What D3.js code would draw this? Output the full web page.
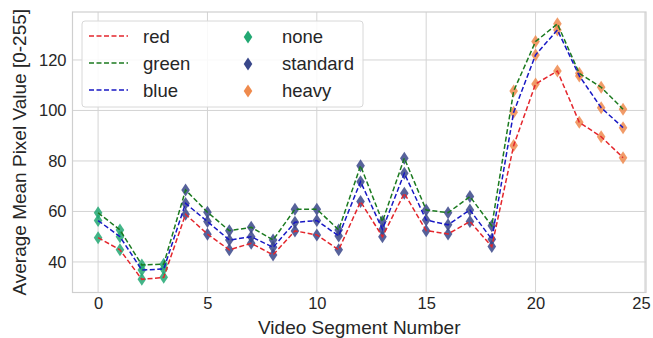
<!DOCTYPE html>
<html>
<head>
<meta charset="utf-8">
<script src="https://cdn.jsdelivr.net/npm/d3@7"></script>
<style>
  body { margin: 0; background: #fff; }
  #chart { width: 653px; height: 338px; }
  text { font-family: "Liberation Sans", Arial, sans-serif; fill: #262626; }
</style>
</head>
<body>
<div id="chart"></div>
<script>
/** Data */
const segments = d3.range(0, 25);
const redValues = [49.6, 44.8, 33.1, 33.9, 58.9, 51.0, 44.8, 47.4, 42.8, 52.3, 50.7, 44.8, 63.9, 50.0, 67.2, 52.4, 51.1, 56.0, 46.1, 86.1, 110.5, 115.6, 95.3, 89.6, 81.3];
const greenValues = [59.5, 52.7, 38.8, 39.1, 68.5, 59.7, 52.4, 53.7, 48.7, 60.9, 60.9, 52.7, 78.1, 56.0, 81.1, 60.6, 59.5, 65.9, 54.3, 107.7, 127.3, 134.3, 114.7, 109.2, 100.5];
const blueValues = [56.4, 50.0, 36.8, 37.2, 63.2, 56.0, 48.7, 50.0, 45.8, 55.7, 56.4, 50.3, 71.8, 52.9, 75.1, 56.6, 54.7, 60.6, 49.0, 99.3, 122.0, 131.9, 113.7, 101.1, 93.2];
const compression = ["none", "none", "none", "none",
  "standard", "standard", "standard", "standard", "standard", "standard", "standard", "standard",
  "standard", "standard", "standard", "standard", "standard", "standard", "standard",
  "heavy", "heavy", "heavy", "heavy", "heavy", "heavy"];
const xTicks = [0, 5, 10, 15, 20, 25];
const yTicks = [40, 60, 80, 100, 120];

const seriesNames = ["red", "green", "blue"];
const seriesValues = [redValues, greenValues, blueValues];
const lineColors = { red: "#e4262c", green: "#1b7a1f", blue: "#1818c4" };
const levels = ["none", "standard", "heavy"];
const markerColors = { none: "#22a873", standard: "#39478a", heavy: "#ef8a4d" };

/** Layout */
const width = 653;
const height = 338;
const plot = { left: 72.5, right: 646, top: 12, bottom: 292.5 };

const x = d3.scaleLinear().domain([-1.17, 25.05]).range([plot.left, plot.right]);
const y = d3.scaleLinear().domain([27.9, 139.0]).range([plot.bottom, plot.top]);

const svg = d3.select("#chart").append("svg")
  .attr("width", width)
  .attr("height", height);

/** Grid */
const grid = svg.append("g");
grid.selectAll("line.vx")
  .data(xTicks.filter((t) => x(t) <= plot.right))
  .enter().append("line")
  .attr("x1", (d) => x(d)).attr("x2", (d) => x(d))
  .attr("y1", plot.top).attr("y2", plot.bottom)
  .style("stroke", "#d4d4d4").style("stroke-width", 1);
grid.selectAll("line.hy")
  .data(yTicks)
  .enter().append("line")
  .attr("x1", plot.left).attr("x2", plot.right)
  .attr("y1", (d) => y(d)).attr("y2", (d) => y(d))
  .style("stroke", "#d4d4d4").style("stroke-width", 1);

svg.append("rect")
  .attr("x", plot.left).attr("y", plot.top)
  .attr("width", plot.right - plot.left).attr("height", plot.bottom - plot.top)
  .style("fill", "none").style("stroke", "#cfcfcf").style("stroke-width", 1.2);

/** Axes (tick labels only, seaborn whitegrid style) */
const xAxis = svg.append("g")
  .attr("transform", `translate(0, ${plot.bottom})`)
  .call(d3.axisBottom(x).tickValues(xTicks).tickSize(0).tickPadding(5));
xAxis.select(".domain").remove();
xAxis.selectAll("text").style("font-size", "16.5px").style("fill", "#262626")
  .attr("dx", (d) => (d === 25 ? -4 : 0));

const yAxis = svg.append("g")
  .attr("transform", `translate(${plot.left}, 0)`)
  .call(d3.axisLeft(y).tickValues(yTicks).tickSize(0).tickPadding(6));
yAxis.select(".domain").remove();
yAxis.selectAll("text").style("font-size", "16.5px").style("fill", "#262626");

svg.append("text")
  .attr("x", (plot.left + plot.right) / 2)
  .attr("y", 334)
  .attr("text-anchor", "middle")
  .style("font-size", "19px")
  .text("Video Segment Number");

svg.append("text")
  .attr("transform", `translate(26, ${(plot.top + plot.bottom) / 2}) rotate(-90)`)
  .attr("text-anchor", "middle")
  .style("font-size", "19px")
  .text("Average Mean Pixel Value [0-255]");

/** Markers */
const diamond = (cx, cy) => `M${cx},${cy - 6.5} L${cx + 4.3},${cy} L${cx},${cy + 6.5} L${cx - 4.3},${cy} Z`;
const markers = svg.append("g");
seriesValues.forEach((vals) => {
  markers.selectAll(null)
    .data(segments)
    .enter().append("path")
    .attr("d", (i) => diamond(x(i), y(vals[i])))
    .style("fill", (i) => markerColors[compression[i]])
    .style("opacity", 0.85);
});

/** Dashed lines */
const line = d3.line().x((d) => x(d[0])).y((d) => y(d[1]));
seriesNames.forEach((name, k) => {
  svg.append("path")
    .datum(segments.map((i) => [i, seriesValues[k][i]]))
    .attr("d", line)
    .style("fill", "none")
    .style("stroke", lineColors[name])
    .style("stroke-width", 1.5)
    .style("stroke-dasharray", "5,2.5");
});

/** Legend */
const legend = svg.append("g");
legend.append("rect")
  .attr("x", 82).attr("y", 21).attr("width", 281).attr("height", 86).attr("rx", 3)
  .style("fill", "#fff").style("fill-opacity", 0.85)
  .style("stroke", "#d8d8d8").style("stroke-width", 1);

seriesNames.forEach((name, k) => {
  const ly = 36 + k * 27;
  legend.append("line")
    .attr("x1", 89).attr("x2", 128).attr("y1", ly).attr("y2", ly)
    .style("stroke", lineColors[name]).style("stroke-width", 1.5)
    .style("stroke-dasharray", "5,2.5");
  legend.append("text")
    .attr("x", 143).attr("y", ly + 6.5)
    .style("font-size", "18.5px")
    .text(name);
});

levels.forEach((lvl, k) => {
  const ly = 37 + k * 27;
  legend.append("path")
    .attr("d", diamond(248, ly))
    .style("fill", markerColors[lvl]);
  legend.append("text")
    .attr("x", 282).attr("y", ly + 5.5)
    .style("font-size", "18.5px")
    .text(lvl);
});
</script>
</body>
</html>
